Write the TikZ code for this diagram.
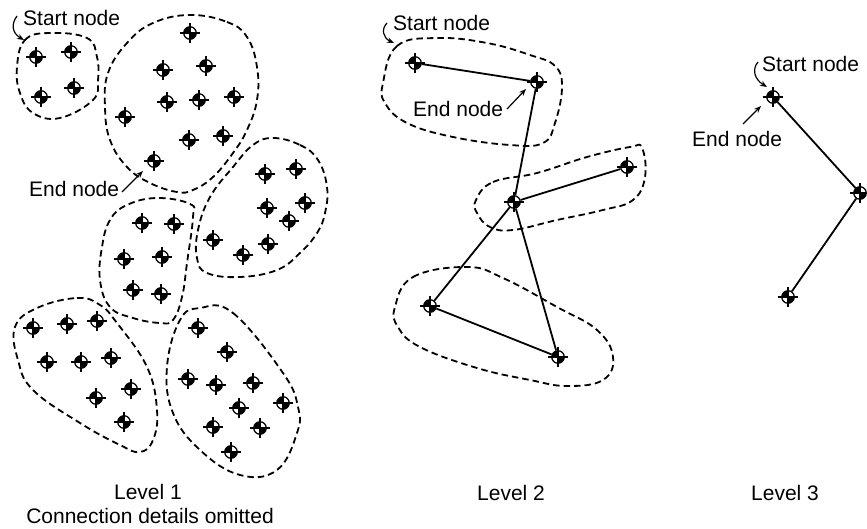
\documentclass[tikz,border=0pt]{standalone}
\usepackage{fontspec}
\setmainfont{Liberation Sans}
\usetikzlibrary{arrows.meta}
\begin{document}
\begin{tikzpicture}[x=1pt,y=-1pt,
  cmk/.style={circle,draw,line width=1.3pt,minimum size=12.5pt,inner sep=0pt,
    path picture={
      \fill (path picture bounding box.center) rectangle (path picture bounding box.north west);
      \fill (path picture bounding box.center) rectangle (path picture bounding box.south east);},
    append after command={
      ([xshift=-10pt]\tikzlastnode.center) edge[line width=1.3pt] ([xshift=10pt]\tikzlastnode.center)
      ([yshift=-10pt]\tikzlastnode.center) edge[line width=1.3pt] ([yshift=10pt]\tikzlastnode.center)}},
  blob/.style={draw,line width=1.8pt,dash pattern=on 6.5pt off 4pt},
  edge/.style={line width=1.8pt},
  lbl/.style={inner sep=0pt,font=\fontsize{21}{25}\selectfont},
  ptr/.style={line width=1.2pt,-{Stealth[length=7pt,width=5.5pt]}}]
\useasboundingbox (0,0) rectangle (867,529);

% ---------------- Level 1 ----------------
\draw[blob] plot[smooth cycle,tension=0.7] coordinates {(17,67) (25,40) (50,33) (87,38) (97,57) (98,80) (93,100) (60,118) (33,113) (20,93)};
\draw[blob] plot[smooth cycle,tension=0.7] coordinates {(190,15) (227,22) (247,37) (257,67) (257,100) (247,130) (233,153) (213,177) (193,190) (177,192) (150,183) (127,167) (110,140) (105,107) (108,73) (127,43) (153,23)};
\draw[blob] plot[smooth cycle,tension=0.7] coordinates {(273,138) (300,145) (318,160) (327,187) (325,213) (317,233) (300,253) (277,270) (240,277) (207,273) (197,258) (198,230) (210,197) (233,167) (253,145)};
\draw[blob] plot[smooth cycle,tension=0.7] coordinates {(157,198) (190,204) (193,217) (187,263) (182,297) (173,320) (160,323) (133,318) (110,307) (100,280) (102,247) (110,220) (127,205)};
\draw[blob] plot[smooth cycle,tension=0.7] coordinates {(37,308) (77,298) (100,305) (117,323) (147,367) (157,410) (153,440) (140,452) (120,445) (80,423) (33,390) (18,360) (15,327)};
\draw[blob] plot[smooth cycle,tension=0.7] coordinates {(200,308) (233,313) (283,373) (298,407) (297,433) (277,470) (240,475) (200,450) (173,413) (167,367) (180,320)};

\foreach \n/\x/\y in {a1/36/57, a2/71/52, a3/41/97, a4/74/88,
  b1/190/33, b2/163/70, b3/206/66, b4/167/102, b5/199/100, b6/234/97, b7/125/117, b8/189/140, b9/223/136, b10/154/161,
  c1/265/174, c2/296/169, c3/305/203, c4/267/208, c5/289/221, c6/268/244, c7/243/255, c8/213/240,
  d1/142/223, d2/174/224, d3/124/259, d4/162/257, d5/133/290, d6/161/294,
  e1/33/328, e2/67/324, e3/97/321, e4/47/362, e5/81/362, e6/111/358, e7/131/389, e8/96/398, e9/124/422,
  f1/198/328, f2/227/352, f3/188/379, f4/216/385, f5/253/383, f6/239/408, f7/283/403, f8/213/427, f9/260/428, f10/231/452}
  {\node[cmk] (\n) at (\x,\y) {};}

\node[lbl,anchor=base west] (s1) at (23,26) {Start node};
\node[lbl,anchor=base west] (e1l) at (29,197) {End node};
\coordinate (s1a) at (17,16);
\coordinate (s1b) at (24,40);
\draw[ptr] (s1a) .. controls (11,24) and (12,33) .. (s1b);
\coordinate (e1a) at (122,192);
\coordinate (e1b) at (143,171);
\draw[ptr] (e1a) -- (e1b);
\node[lbl,anchor=base] (lv1) at (148,499) {Level 1};
\node[lbl,anchor=base] (cdo) at (150,523) {Connection details omitted};

% ---------------- Level 2 ----------------
\draw[blob] plot[smooth cycle,tension=0.7] coordinates {(383,83) (397,46) (437,38) (487,43) (530,55) (555,66) (562,87) (555,123) (543,143) (510,145) (453,137) (407,123) (385,103)};
\draw[blob] plot[smooth cycle,tension=0.7] coordinates {(476,200) (493,182) (537,173) (587,157) (630,147) (642,148) (645,177) (633,200) (603,210) (557,220) (513,230) (490,227) (477,213)};
\draw[blob] plot[smooth cycle,tension=0.7] coordinates {(395,307) (413,277) (467,267) (503,278) (557,307) (597,330) (613,357) (603,380) (567,386) (530,380) (477,368) (420,347) (398,327)};

\node[cmk] (p1) at (415,63) {};
\node[cmk] (p2) at (537,82) {};
\node[cmk] (p3) at (627,167) {};
\node[cmk] (p4) at (514,202) {};
\node[cmk] (p5) at (430,306) {};
\node[cmk] (p6) at (558,357) {};
\draw[edge] (p1) -- (p2);
\draw[edge] (p2) -- (p4);
\draw[edge] (p4) -- (p3);
\draw[edge] (p4) -- (p5);
\draw[edge] (p4) -- (p6);
\draw[edge] (p5) -- (p6);

\node[lbl,anchor=base west] (s2) at (393,31) {Start node};
\node[lbl,anchor=base west] (e2l) at (413,117) {End node};
\coordinate (s2a) at (387,23);
\coordinate (s2b) at (394,43);
\draw[ptr] (s2a) .. controls (381,29) and (383,38) .. (s2b);
\coordinate (e2a) at (507,109);
\coordinate (e2b) at (526,89);
\draw[ptr] (e2a) -- (e2b);
\node[lbl,anchor=base] (lv2) at (511,500) {Level 2};

% ---------------- Level 3 ----------------
\node[cmk] (q1) at (773,97) {};
\node[cmk] (q2) at (860,193) {};
\node[cmk] (q3) at (788,297) {};
\draw[edge] (q1) -- (q2);
\draw[edge] (q2) -- (q3);
\node[lbl,anchor=base west] (s3) at (762,72) {Start node};
\node[lbl,anchor=base west] (e3l) at (692,147) {End node};
\coordinate (s3a) at (758,62);
\coordinate (s3b) at (767,87);
\draw[ptr] (s3a) .. controls (752,69) and (754,79) .. (s3b);
\coordinate (e3a) at (743,124);
\coordinate (e3b) at (761,106);
\draw[ptr] (e3a) -- (e3b);
\node[lbl,anchor=base] (lv3) at (785,500) {Level 3};
\end{tikzpicture}
\end{document}
